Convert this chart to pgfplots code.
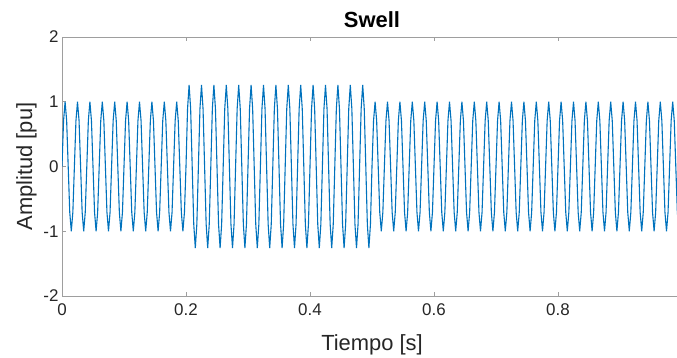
\documentclass[border=0pt]{standalone}
\usepackage{fontspec}
\setmainfont{Liberation Sans}
\usepackage{pgfplots}
\pgfplotsset{compat=1.18}
\definecolor{mblue}{rgb}{0,0.447,0.741}
\definecolor{axgray}{rgb}{0.62,0.62,0.62}
\definecolor{txt}{rgb}{0.15,0.15,0.15}
\begin{document}
\begin{tikzpicture}
\path[use as bounding box] (0,0) rectangle (677bp,358bp);
\begin{axis}[
  at={(62bp,62bp)}, anchor=south west,
  scale only axis, width=620bp, height=259bp,
  xmin=0, xmax=1, ymin=-2, ymax=2,
  xtick={0,0.2,0.4,0.6,0.8}, xticklabels={0,0.2,0.4,0.6,0.8},
  ytick={-2,-1,0,1,2}, yticklabels={-2,-1,0,1,2},
  tick align=inside, major tick length=4bp,
  axis line style={axgray, line width=0.8pt},
  every tick/.style={axgray, line width=0.6pt},
  tick label style={font=\fontsize{17}{20}\selectfont, text=txt},
  xticklabel style={yshift=-4bp},
  label style={font=\fontsize{22}{26}\selectfont, text=txt},
  xlabel style={yshift=-12bp},
  title style={font=\bfseries\fontsize{22}{26}\selectfont, text=black},
  title={Swell},
  xlabel={Tiempo [s]},
  ylabel={Amplitud [pu]},
]
\addplot[mblue, line width=1.1pt] coordinates {
(0,0)(.0025,.707)(.005,1)(.0075,.707)(.01,0)(.0125,-.707)(.015,-1)(.0175,-.707)
(.02,0)(.0225,.707)(.025,1)(.0275,.707)(.03,0)(.0325,-.707)(.035,-1)(.0375,-.707)
(.04,0)(.0425,.707)(.045,1)(.0475,.707)(.05,0)(.0525,-.707)(.055,-1)(.0575,-.707)
(.06,0)(.0625,.707)(.065,1)(.0675,.707)(.07,0)(.0725,-.707)(.075,-1)(.0775,-.707)
(.08,0)(.0825,.707)(.085,1)(.0875,.707)(.09,0)(.0925,-.707)(.095,-1)(.0975,-.707)
(.10,0)(.1025,.707)(.105,1)(.1075,.707)(.11,0)(.1125,-.707)(.115,-1)(.1175,-.707)
(.12,0)(.1225,.707)(.125,1)(.1275,.707)(.13,0)(.1325,-.707)(.135,-1)(.1375,-.707)
(.14,0)(.1425,.707)(.145,1)(.1475,.707)(.15,0)(.1525,-.707)(.155,-1)(.1575,-.707)
(.16,0)(.1625,.707)(.165,1)(.1675,.707)(.17,0)(.1725,-.707)(.175,-1)(.1775,-.707)
(.18,0)(.1825,.707)(.185,1)(.1875,.707)(.19,0)(.1925,-.707)(.195,-1)(.1975,-.707)
(.20,0)(.2025,.891)(.205,1.26)(.2075,.891)(.21,0)(.2125,-.891)(.215,-1.26)(.2175,-.891)
(.22,0)(.2225,.891)(.225,1.26)(.2275,.891)(.23,0)(.2325,-.891)(.235,-1.26)(.2375,-.891)
(.24,0)(.2425,.891)(.245,1.26)(.2475,.891)(.25,0)(.2525,-.891)(.255,-1.26)(.2575,-.891)
(.26,0)(.2625,.891)(.265,1.26)(.2675,.891)(.27,0)(.2725,-.891)(.275,-1.26)(.2775,-.891)
(.28,0)(.2825,.891)(.285,1.26)(.2875,.891)(.29,0)(.2925,-.891)(.295,-1.26)(.2975,-.891)
(.30,0)(.3025,.891)(.305,1.26)(.3075,.891)(.31,0)(.3125,-.891)(.315,-1.26)(.3175,-.891)
(.32,0)(.3225,.891)(.325,1.26)(.3275,.891)(.33,0)(.3325,-.891)(.335,-1.26)(.3375,-.891)
(.34,0)(.3425,.891)(.345,1.26)(.3475,.891)(.35,0)(.3525,-.891)(.355,-1.26)(.3575,-.891)
(.36,0)(.3625,.891)(.365,1.26)(.3675,.891)(.37,0)(.3725,-.891)(.375,-1.26)(.3775,-.891)
(.38,0)(.3825,.891)(.385,1.26)(.3875,.891)(.39,0)(.3925,-.891)(.395,-1.26)(.3975,-.891)
(.40,0)(.4025,.891)(.405,1.26)(.4075,.891)(.41,0)(.4125,-.891)(.415,-1.26)(.4175,-.891)
(.42,0)(.4225,.891)(.425,1.26)(.4275,.891)(.43,0)(.4325,-.891)(.435,-1.26)(.4375,-.891)
(.44,0)(.4425,.891)(.445,1.26)(.4475,.891)(.45,0)(.4525,-.891)(.455,-1.26)(.4575,-.891)
(.46,0)(.4625,.891)(.465,1.26)(.4675,.891)(.47,0)(.4725,-.891)(.475,-1.26)(.4775,-.891)
(.48,0)(.4825,.891)(.485,1.26)(.4875,.891)(.49,0)(.4925,-.891)(.495,-1.26)(.4975,-.891)
(.50,0)(.5025,.707)(.505,1)(.5075,.707)(.51,0)(.5125,-.707)(.515,-1)(.5175,-.707)
(.52,0)(.5225,.707)(.525,1)(.5275,.707)(.53,0)(.5325,-.707)(.535,-1)(.5375,-.707)
(.54,0)(.5425,.707)(.545,1)(.5475,.707)(.55,0)(.5525,-.707)(.555,-1)(.5575,-.707)
(.56,0)(.5625,.707)(.565,1)(.5675,.707)(.57,0)(.5725,-.707)(.575,-1)(.5775,-.707)
(.58,0)(.5825,.707)(.585,1)(.5875,.707)(.59,0)(.5925,-.707)(.595,-1)(.5975,-.707)
(.60,0)(.6025,.707)(.605,1)(.6075,.707)(.61,0)(.6125,-.707)(.615,-1)(.6175,-.707)
(.62,0)(.6225,.707)(.625,1)(.6275,.707)(.63,0)(.6325,-.707)(.635,-1)(.6375,-.707)
(.64,0)(.6425,.707)(.645,1)(.6475,.707)(.65,0)(.6525,-.707)(.655,-1)(.6575,-.707)
(.66,0)(.6625,.707)(.665,1)(.6675,.707)(.67,0)(.6725,-.707)(.675,-1)(.6775,-.707)
(.68,0)(.6825,.707)(.685,1)(.6875,.707)(.69,0)(.6925,-.707)(.695,-1)(.6975,-.707)
(.70,0)(.7025,.707)(.705,1)(.7075,.707)(.71,0)(.7125,-.707)(.715,-1)(.7175,-.707)
(.72,0)(.7225,.707)(.725,1)(.7275,.707)(.73,0)(.7325,-.707)(.735,-1)(.7375,-.707)
(.74,0)(.7425,.707)(.745,1)(.7475,.707)(.75,0)(.7525,-.707)(.755,-1)(.7575,-.707)
(.76,0)(.7625,.707)(.765,1)(.7675,.707)(.77,0)(.7725,-.707)(.775,-1)(.7775,-.707)
(.78,0)(.7825,.707)(.785,1)(.7875,.707)(.79,0)(.7925,-.707)(.795,-1)(.7975,-.707)
(.80,0)(.8025,.707)(.805,1)(.8075,.707)(.81,0)(.8125,-.707)(.815,-1)(.8175,-.707)
(.82,0)(.8225,.707)(.825,1)(.8275,.707)(.83,0)(.8325,-.707)(.835,-1)(.8375,-.707)
(.84,0)(.8425,.707)(.845,1)(.8475,.707)(.85,0)(.8525,-.707)(.855,-1)(.8575,-.707)
(.86,0)(.8625,.707)(.865,1)(.8675,.707)(.87,0)(.8725,-.707)(.875,-1)(.8775,-.707)
(.88,0)(.8825,.707)(.885,1)(.8875,.707)(.89,0)(.8925,-.707)(.895,-1)(.8975,-.707)
(.90,0)(.9025,.707)(.905,1)(.9075,.707)(.91,0)(.9125,-.707)(.915,-1)(.9175,-.707)
(.92,0)(.9225,.707)(.925,1)(.9275,.707)(.93,0)(.9325,-.707)(.935,-1)(.9375,-.707)
(.94,0)(.9425,.707)(.945,1)(.9475,.707)(.95,0)(.9525,-.707)(.955,-1)(.9575,-.707)
(.96,0)(.9625,.707)(.965,1)(.9675,.707)(.97,0)(.9725,-.707)(.975,-1)(.9775,-.707)
(.98,0)(.9825,.707)(.985,1)(.9875,.707)(.99,0)(.9925,-.707)(.995,-1)(.9975,-.707)
(1,0)
};
\end{axis}
\end{tikzpicture}
\end{document}
